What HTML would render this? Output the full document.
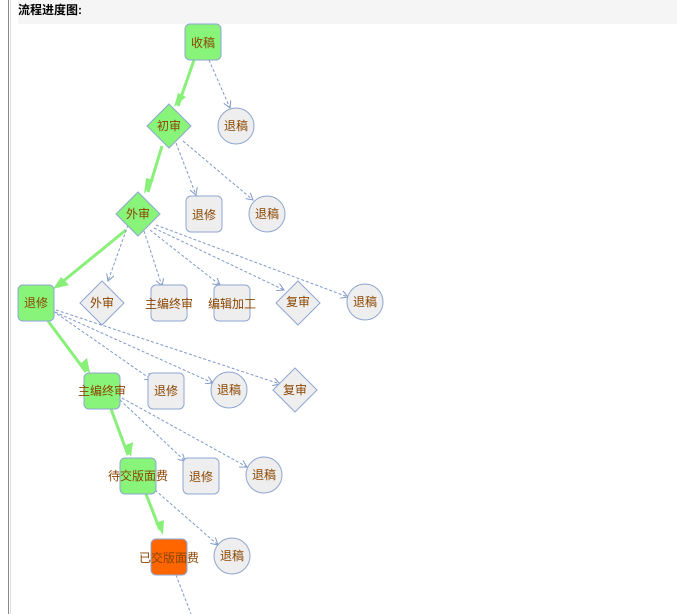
<!DOCTYPE html>
<html><head><meta charset="utf-8"><style>
html,body{margin:0;padding:0;background:#fff;width:677px;height:614px;overflow:hidden}
body{position:relative;font-family:"Liberation Sans","Noto Sans CJK SC",sans-serif}
.bl{position:absolute;left:8px;top:0;width:1px;height:614px;background:#888}
.bl2{position:absolute;left:10px;top:0;width:1px;height:614px;background:#ddd}
.hd{position:absolute;left:18px;top:0;width:659px;height:24px;background:#f5f5f5;font-weight:bold;font-size:12px;line-height:20px;color:#000}
svg{position:absolute;left:0;top:0}
text{font-family:"Liberation Sans","Noto Sans CJK SC",sans-serif;font-size:12px;fill:#8a4500;text-anchor:middle;dominant-baseline:central}
</style></head><body>
<div class="bl"></div><div class="bl2"></div>
<div class="hd">流程进度图:</div>
<svg width="677" height="614" viewBox="0 0 677 614">
<defs>
<marker id="g" markerWidth="8" markerHeight="8" refX="7" refY="4" orient="auto" markerUnits="userSpaceOnUse" viewBox="0 0 8 8"><path d="M0,0 L8,4 L0,8z" fill="#88f078"/></marker>
<marker id="b" markerWidth="8" markerHeight="8" refX="7" refY="4" orient="auto" markerUnits="userSpaceOnUse" viewBox="0 0 8 8"><path d="M0,0 L7,4 L0,8" fill="none" stroke="#8099c8" stroke-width="1"/></marker>
</defs>
<g stroke="#88f078" stroke-width="3" fill="none">
<path d="M194,60 L178,106" marker-end="url(#g)" style="marker-end:none"/>
<path d="M162,146 L148,192"/>
<path d="M126,230 L56,287"/>
<path d="M48,321 L86,372"/>
<path d="M111,409 L128,455"/>
<path d="M146,494 L160,530"/>
</g>
<g fill="#88f078">
<path d="M174,107 L186,97 L178,93z"/>
<path d="M144,194 L154,180 L146,178z"/>
<path d="M53,289 L69,285 L61,277z"/>
<path d="M90,373 L87,358 L79,365z"/>
<path d="M131,457 L133,442 L124,446z"/>
<path d="M163,535 L164,520 L155,523z"/>
</g>
<g stroke="#8099c8" stroke-width="1" stroke-dasharray="3,2" fill="none" marker-end="url(#b)">
<path d="M209,60 L230,108"/>
<path d="M176,143 L196,195"/>
<path d="M183,141 L253,200"/>
<path d="M128,225 L108,281"/>
<path d="M144,231 L162,286"/>
<path d="M150,230 L220,285"/>
<path d="M154,228 L284,290"/>
<path d="M156,225 L348,297"/>
<path d="M53,311 L152,380"/>
<path d="M55,312 L213,383"/>
<path d="M56,310 L280,384"/>
<path d="M120,400 L185,461"/>
<path d="M122,398 L247,467"/>
<path d="M155,490 L218,545"/>
<path d="M176,575 L191,614" marker-end="none" style="marker-end:none"/>
</g>
<g stroke="#8ea6d0" stroke-width="1">
<rect x="185" y="24" width="36" height="36" rx="5" fill="#88f47a"/>
<path d="M169,104 L191,126 L169,148 L147,126z" fill="#88f47a"/>
<circle cx="236" cy="126" r="18" fill="#eeeeee"/>
<path d="M138,192 L160,214 L138,236 L116,214z" fill="#88f47a"/>
<rect x="186" y="196" width="36" height="36" rx="5" fill="#eeeeee"/>
<circle cx="267" cy="214" r="18" fill="#eeeeee"/>
<rect x="18" y="285" width="36" height="36" rx="5" fill="#88f47a"/>
<path d="M102,281 L124,303 L102,325 L80,303z" fill="#eeeeee"/>
<rect x="151" y="285" width="36" height="36" rx="5" fill="#eeeeee"/>
<rect x="214" y="285" width="36" height="36" rx="5" fill="#eeeeee"/>
<path d="M298,281 L320,303 L298,325 L276,303z" fill="#eeeeee"/>
<circle cx="365" cy="302" r="18" fill="#eeeeee"/>
<rect x="84" y="373" width="36" height="36" rx="5" fill="#88f47a"/>
<rect x="148" y="373" width="36" height="36" rx="5" fill="#eeeeee"/>
<circle cx="229" cy="390" r="18" fill="#eeeeee"/>
<path d="M295,368 L317,390 L295,412 L273,390z" fill="#eeeeee"/>
<rect x="120" y="458" width="36" height="36" rx="5" fill="#88f47a"/>
<rect x="183" y="458" width="36" height="36" rx="5" fill="#eeeeee"/>
<circle cx="264" cy="475" r="18" fill="#eeeeee"/>
<rect x="151" y="539" width="36" height="36" rx="5" fill="#ff6600"/>
<circle cx="232" cy="556" r="18" fill="#eeeeee"/>
</g>
<text x="203" y="43">收稿</text>
<text x="169" y="126">初审</text>
<text x="236" y="126">退稿</text>
<text x="138" y="214">外审</text>
<text x="204" y="215">退修</text>
<text x="267" y="214">退稿</text>
<text x="36" y="303">退修</text>
<text x="102" y="303">外审</text>
<text x="169" y="304">主编终审</text>
<text x="232" y="304">编辑加工</text>
<text x="298" y="302">复审</text>
<text x="365" y="302">退稿</text>
<text x="102" y="391">主编终审</text>
<text x="166" y="391">退修</text>
<text x="229" y="390">退稿</text>
<text x="295" y="390">复审</text>
<text x="138" y="476">待交版面费</text>
<text x="201" y="477">退修</text>
<text x="264" y="475">退稿</text>
<text x="169" y="558">已交版面费</text>
<text x="232" y="556">退稿</text>
</svg>
</body></html>
